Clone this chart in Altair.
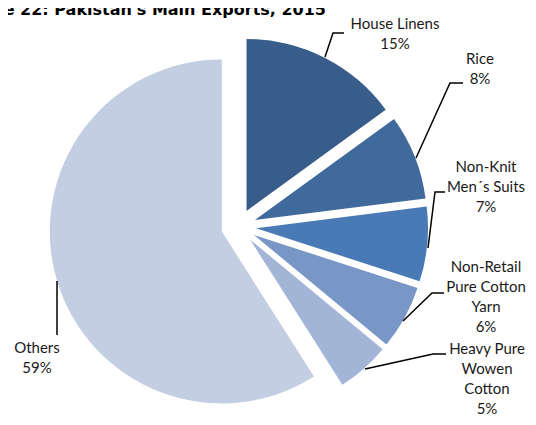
import altair as alt
import pandas as pd

# ---- data ----
categories = ["House Linens", "Rice", "Non-Knit Men´s Suits",
              "Non-Retail Pure Cotton Yarn", "Heavy Pure Wowen Cotton", "Others"]
shares = [15, 8, 7, 6, 5, 59]
label_lines = [["House Linens"], ["Rice"], ["Non-Knit", "Men´s Suits"],
               ["Non-Retail", "Pure Cotton", "Yarn"],
               ["Heavy Pure", "Wowen", "Cotton"], ["Others"]]
title_text = "Figure 22: Pakistan's Main Exports, 2015"

# ---- style / layout ----
colors = ["#385D8A", "#416A9C", "#4A7AB5", "#7896C6", "#A3B5D6", "#C3CEE3"]
CX, CY, R, EXPLODE = 230.6, 218.5, 172, 17.5
W, H = 520, 409
label_pos = [(387, 8.5), (472, 43.5), (478, 152), (478, 252), (479, 334), (29, 332.5)]
leader_pts = [
    [(317, 49), (325, 25), (336, 25)],
    [(408, 150), (442, 75), (455, 75)],
    [(420, 240), (427, 184), (437, 184)],
    [(395, 313), (424, 285), (436, 285)],
    [(357, 361), (425, 346), (438, 346)],
    [(49, 273), (49, 327)],
]

df = pd.DataFrame({"category": categories, "share": shares,
                   "order": list(range(len(categories)))})

pie = (
    alt.Chart(df)
    .transform_window(cum="sum(share)", sort=[alt.SortField("order")], frame=[None, 0])
    .transform_joinaggregate(total="sum(share)")
    .transform_calculate(t1="datum.cum / datum.total * 2 * PI",
                         t0="(datum.cum - datum.share) / datum.total * 2 * PI")
    .transform_calculate(mid="(datum.t0 + datum.t1) / 2")
    .transform_calculate(px=f"{CX} + {EXPLODE} * sin(datum.mid)",
                         py=f"{CY} - {EXPLODE} * cos(datum.mid)")
    .mark_arc(radius=R)
    .encode(
        theta=alt.Theta("t0:Q", scale=None),
        theta2="t1:Q",
        x=alt.X("px:Q", scale=None),
        y=alt.Y("py:Q", scale=None),
        color=alt.Color("category:N", scale=alt.Scale(domain=categories, range=colors), legend=None),
    )
)

lab_df = pd.DataFrame({
    "category": categories,
    "text": ["\n".join(l + [f"{v}%"]) for l, v in zip(label_lines, shares)],
    "lx": [p[0] for p in label_pos],
    "ly": [p[1] for p in label_pos],
})
labels = alt.Chart(lab_df).mark_text(
    align="center", baseline="top", lineBreak="\n", fontSize=15,
    font="Lato", lineHeight=20, color="#1a1a1a"
).encode(x=alt.X("lx:Q", scale=None), y=alt.Y("ly:Q", scale=None), text="text:N")

rows = []
for cat, pts in zip(categories, leader_pts):
    for i, (x, y) in enumerate(pts):
        rows.append({"category": cat, "i": i, "lx": x, "ly": y})
lead_df = pd.DataFrame(rows)
leaders = alt.Chart(lead_df).mark_line(color="#000000", strokeWidth=1.5).encode(
    x=alt.X("lx:Q", scale=None), y=alt.Y("ly:Q", scale=None),
    detail="category:N", order="i:Q")

title = alt.Chart(pd.DataFrame({"t": [title_text]})).mark_text(
    align="right", baseline="alphabetic", fontWeight="bold", fontSize=16,
    font="DejaVu Sans", color="#000000"
).encode(x=alt.value(318), y=alt.value(7), text="t:N")

chart = (
    alt.layer(pie, leaders, labels, title)
    .properties(width=W, height=H, padding=0, autosize=alt.AutoSizeParams(type="none"))
    .configure_view(stroke=None)
)
chart.save("out.html", embed_options={"renderer": "svg", "actions": False})
